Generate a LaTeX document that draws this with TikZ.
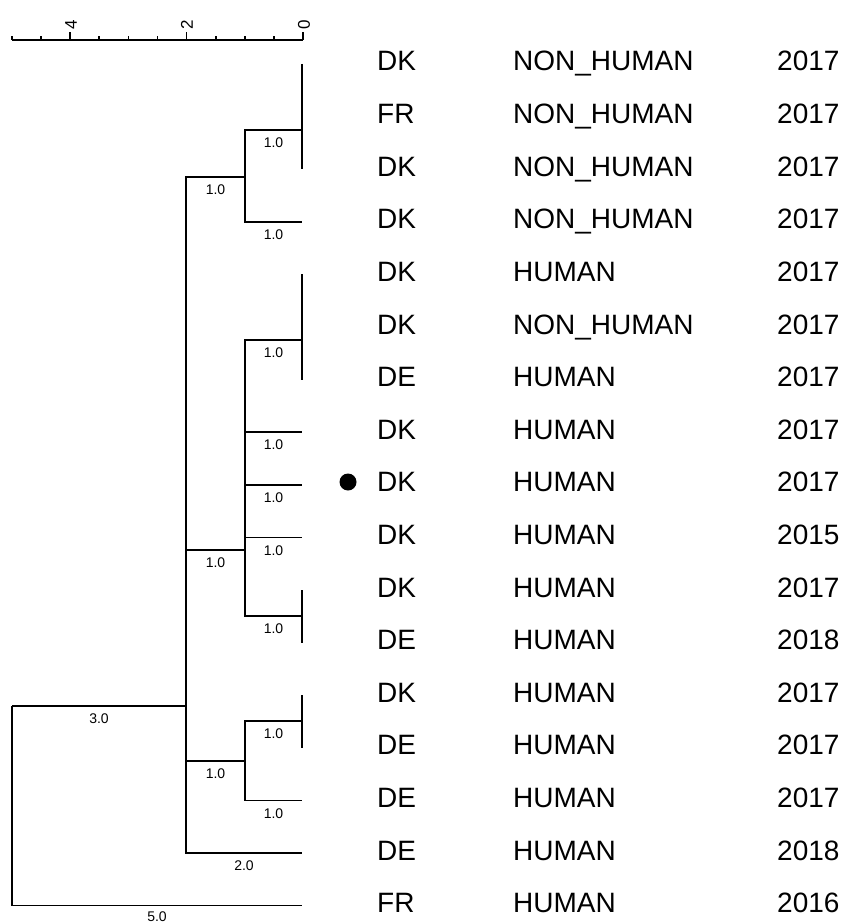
\documentclass[tikz,border=0pt]{standalone}
\usepackage{fontspec}
\setmainfont{Liberation Sans}
\begin{document}
\begin{tikzpicture}[x=1pt,y=-1pt,
  br/.style={line width=1.7pt},
  blab/.style={font=\fontsize{14}{14}\selectfont, inner sep=0pt, below=7pt},
  leaflab/.style={font=\fontsize{28}{28}\selectfont, inner sep=0pt, anchor=base west},
  ticklab/.style={font=\fontsize{17}{17}\selectfont, inner sep=0pt, rotate=90}]
\useasboundingbox (0,0) rectangle (845,923);
% leaf rows
\foreach \i/\c/\h/\y in {0/DK/NON\_HUMAN/2017,1/FR/NON\_HUMAN/2017,2/DK/NON\_HUMAN/2017,3/DK/NON\_HUMAN/2017,
  4/DK/HUMAN/2017,5/DK/NON\_HUMAN/2017,6/DE/HUMAN/2017,7/DK/HUMAN/2017,8/DK/HUMAN/2017,9/DK/HUMAN/2015,
  10/DK/HUMAN/2017,11/DE/HUMAN/2018,12/DK/HUMAN/2017,13/DE/HUMAN/2017,14/DE/HUMAN/2017,15/DE/HUMAN/2018,16/FR/HUMAN/2016}{
  \pgfmathsetmacro{\ry}{64+52.6*\i}
  \coordinate (L\i) at (302,\ry);
  \node[leaflab] (c\i) at (377,\ry+7) {\c};
  \node[leaflab] (h\i) at (513,\ry+7) {\h};
  \node[leaflab] (y\i) at (777,\ry+7) {\y};
}
\node[circle, fill=black, minimum size=17pt, inner sep=0pt] (dot) at (348,482) {};
% internal nodes
\coordinate (K1) at (302,130);
\coordinate (K2) at (302,340);
\coordinate (K3) at (302,616);
\coordinate (K4) at (302,721);
\coordinate (B) at (245,177);
\coordinate (C) at (245,550);
\coordinate (D) at (245,761);
\coordinate (A) at (186,706);
\coordinate (R) at (12,706);
% zero-length clusters
\draw[br] (L0) -- (L2);
\draw[br] (L4) -- (L6);
\draw[br] (L10) -- (L11);
\draw[br] (L12) -- (L13);
% branches
\draw[br] (B) |- node[pos=.75,blab]{1.0} (K1);
\draw[br] (B) |- node[pos=.75,blab]{1.0} (L3);
\draw[br] (A) |- node[pos=.75,blab]{1.0} (B);
\draw[br] (C) |- node[pos=.75,blab]{1.0} (K2);
\draw[br] (C) |- node[pos=.75,blab]{1.0} (L7);
\draw[br] (C) |- node[pos=.75,blab]{1.0} (L8);
\draw[br] (C) |- node[pos=.75,blab]{1.0} (L9);
\draw[br] (C) |- node[pos=.75,blab]{1.0} (K3);
\draw[br] (A) |- node[pos=.75,blab]{1.0} (C);
\draw[br] (D) |- node[pos=.75,blab]{1.0} (K4);
\draw[br] (D) |- node[pos=.75,blab]{1.0} (L14);
\draw[br] (A) |- node[pos=.75,blab]{1.0} (D);
\draw[br] (A) |- node[pos=.75,blab]{2.0} (L15);
\draw[br] (R) |- node[pos=.75,blab]{3.0} (A);
\draw[br] (R) |- node[pos=.75,font=\fontsize{14}{14}\selectfont,inner sep=0pt,anchor=north,yshift=-5pt]{5.0} (L16);
% scale bar
\coordinate (S0) at (303,40);
\coordinate (S5) at (12,40);
\draw[br] (S5) -- (S0);
\foreach \k in {0,...,10}{
  \pgfmathsetmacro{\tx}{303-29.1*\k}
  \pgfmathsetmacro{\th}{ifthenelse(mod(\k,4)==0,8,4)}
  \draw[br] (\tx,40) -- (\tx,40-\th);
}
\node[ticklab] (t0) at (304,25) {0};
\node[ticklab] (t2) at (187,25) {2};
\node[ticklab] (t4) at (71,25) {4};
\end{tikzpicture}
\end{document}
